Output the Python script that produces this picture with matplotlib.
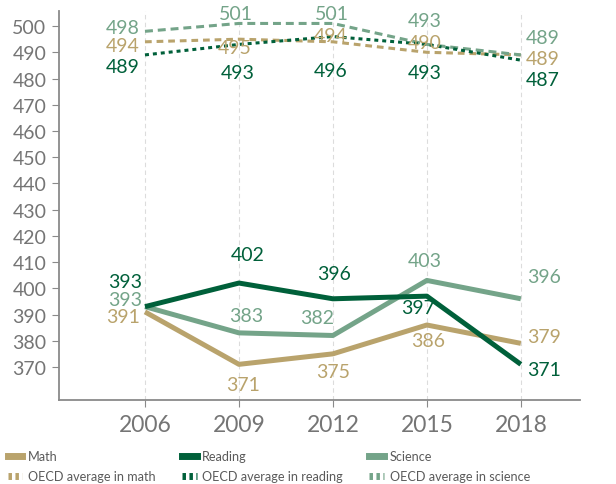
import matplotlib
matplotlib.use("Agg")
import matplotlib.pyplot as plt
from matplotlib.lines import Line2D

plt.rcParams['font.family'] = ['Lato', 'DejaVu Sans']

years = ["2006", "2009", "2012", "2015", "2018"]
math = [391, 371, 375, 386, 379]
reading = [393, 402, 396, 397, 371]
science = [393, 383, 382, 403, 396]
oecd_math = [494, 495, 494, 490, 489]
oecd_reading = [489, 493, 496, 493, 487]
oecd_science = [498, 501, 501, 493, 489]
yticks = [370, 380, 390, 400, 410, 420, 430, 440, 450, 460, 470, 480, 490, 500]

c_math = "#B9A36C"
c_read = "#00603A"
c_sci = "#74A489"
c_tick = "#757575"

fig = plt.figure(figsize=(6.16, 4.85), dpi=100)
ax = fig.add_axes([0.0958, 0.1732, 0.8458, 0.8018])
x = list(range(len(years)))

for xi in x:
    ax.axvline(xi, color="#dcdcdc", lw=0.8, ls=(0, (4, 3)), zorder=0)

ax.plot(x, math, color=c_math, lw=3.6, solid_capstyle="butt", zorder=3)
ax.plot(x, science, color=c_sci, lw=3.6, solid_capstyle="butt", zorder=3)
ax.plot(x, reading, color=c_read, lw=3.6, solid_capstyle="butt", zorder=4)
ax.plot(x, oecd_math, color=c_math, lw=2.2, ls=(0, (2.2, 1.6)), zorder=3)
ax.plot(x, oecd_science, color=c_sci, lw=2.2, ls=(0, (2.6, 1.6)), zorder=3)
ax.plot(x, oecd_reading, color=c_read, lw=2.2, ls=(0, (1.3, 1.3)), zorder=3)

ax.set_xlim(-0.915, 4.63)
ax.set_ylim(357.4, 505.7)
ax.set_xticks(x)
ax.set_xticklabels(years)
ax.set_yticks(yticks)
ax.tick_params(axis="x", length=5, color="#8a8a8a", labelsize=16.5, labelcolor=c_tick, pad=5)
ax.tick_params(axis="y", length=5, color="#8a8a8a", labelsize=14, labelcolor=c_tick, pad=4)
for s in ["top", "right"]:
    ax.spines[s].set_visible(False)
for s in ["left", "bottom"]:
    ax.spines[s].set_color("#8a8a8a")
    ax.spines[s].set_linewidth(1.3)


def label(series, color, offs):
    for xi, v, o in zip(x, series, offs):
        dx, dy = o
        ha = "right" if xi == 0 else ("left" if xi == len(x) - 1 else "center")
        ax.annotate(str(v), (xi, v), xytext=(dx, dy - 0.8), textcoords="offset points",
                    ha=ha, va="center", color=color, fontsize=14, zorder=6)


label(oecd_science, c_sci, [(-3.6, 3.4), (-2.2, 8.2), (-0.7, 8.2), (-1.4, 18.3), (3.6, 13.6)])
label(oecd_math, c_math, [(-3.6, -2.0), (-2.9, -5.0), (-1.4, 5.5), (-1.4, 8.1), (3.6, -1.5)])
label(oecd_reading, c_read, [(-3.6, -7.6), (-0.7, -19.2), (-1.4, -23.4), (-1.4, -19.2), (3.6, -12.9)])
label(reading, c_read, [(-2.2, 19.2), (6.5, 21.3), (0.7, 19.3), (-6.5, -7.1), (4.3, -2.6)])
label(science, c_sci, [(-2.2, 5.9), (5.0, 13.2), (-11.5, 14.0), (-1.4, 15.4), (4.3, 16.8)])
label(math, c_math, [(-3.6, -2.6), (2.9, -13.4), (0.0, -12.0), (0.7, -10.4), (4.3, 5.7)])

handles = [
    Line2D([], [], color=c_math, lw=5),
    Line2D([], [], color=c_math, lw=5, ls=(0, (0.5, 0.5))),
    Line2D([], [], color=c_read, lw=5),
    Line2D([], [], color=c_read, lw=5, ls=(0, (0.5, 0.5))),
    Line2D([], [], color=c_sci, lw=5),
    Line2D([], [], color=c_sci, lw=5, ls=(0, (0.5, 0.5))),
]
labels = ["Math", "OECD average in math", "Reading", "OECD average in reading",
          "Science", "OECD average in science"]
leg = fig.legend(handles, labels, ncol=3, loc="lower left", bbox_to_anchor=(0.0, -0.012),
                 frameon=False, fontsize=9.1, handlelength=1.15, handletextpad=0.45,
                 columnspacing=2.1, labelspacing=0.62, borderaxespad=0.2)
for t in leg.get_texts():
    t.set_color("#5a5a5a")

fig.savefig("out.png", dpi=100)
